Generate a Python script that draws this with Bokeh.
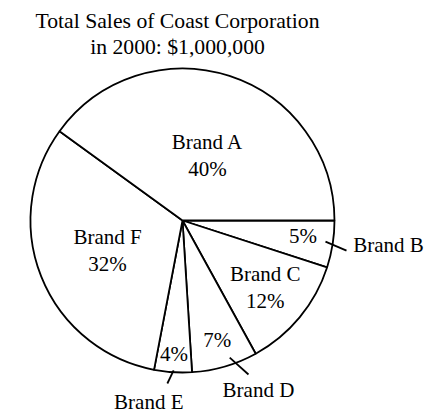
import math
from bokeh.plotting import figure
from bokeh.models import Range1d, ColumnDataSource
from bokeh.core.properties import value
from bokeh.embed import file_html
from bokeh.resources import INLINE

# ---- data ----
brands = ["Brand A", "Brand B", "Brand C", "Brand D", "Brand E", "Brand F"]
shares = [40, 5, 12, 7, 4, 32]
title_lines = ["Total Sales of Coast Corporation", "in 2000: $1,000,000"]

# ---- layout / style ----
W, H = 446, 413
FONT = value("Liberation Serif")
FSIZE = "21px"
TSIZE = "21.7px"
CX, CY, R = 182, 193, 152          # pie centre/radius in plot units (1 unit = 1 px)
LW = 1.8
# slice order drawn clockwise from 3 o'clock
clockwise_order = ["Brand B", "Brand C", "Brand D", "Brand E", "Brand F", "Brand A"]
# inside label placement: radius fraction, angle nudge (deg), show name?
inner = {
    "Brand A": (0.46, -3.0, True),
    "Brand B": (0.80, 1.5, False),
    "Brand C": (0.70, 0.7, True),
    "Brand D": (0.82, 0.0, False),
    "Brand E": (0.88, 0.0, False),
    "Brand F": (0.53, 0.0, True),
}
# outside call-outs: leader (r0, da0) -> (r1, da1), text (r, da)
callout = {
    "Brand B": ((0.951, 0.6), (1.097, -1.4), (1.365, 2.1)),
    "Brand D": ((0.954, 2.8), (1.102, 7.0), (1.224, 7.9)),
    "Brand E": ((0.987, 0.2), (1.077, -1.7), (1.217, -6.9)),
}
LINE_GAP = 13.5

p = figure(width=W, height=H, x_range=Range1d(0, W), y_range=Range1d(0, H),
           output_backend="svg", toolbar_location=None, min_border=0)
p.axis.visible = False
p.grid.visible = False
p.outline_line_color = None
p.background_fill_color = "white"
p.border_fill_color = "white"

total = float(sum(shares))
share_of = dict(zip(brands, shares))
cum = 0.0
starts, ends, mids = [], [], {}
for b in clockwise_order:
    a0 = -cum / total * 2 * math.pi
    cum += share_of[b]
    a1 = -cum / total * 2 * math.pi
    starts.append(a1)
    ends.append(a0)
    mids[b] = (a0 + a1) / 2

src = ColumnDataSource(dict(start=starts, end=ends, brand=clockwise_order))
p.wedge(x=CX, y=CY, radius=R, start_angle="start", end_angle="end", source=src,
        fill_color="white", line_color="black", line_width=LW)

def polar(r, ang):
    return CX + r * math.cos(ang), CY + r * math.sin(ang)

tx, ty, tt = [], [], []
for b, s in zip(brands, shares):
    rf, da, show = inner[b]
    x, y = polar(rf * R, mids[b] + math.radians(da))
    pct = f"{s}%"
    if show:
        tx += [x, x]
        ty += [y + LINE_GAP, y - LINE_GAP]
        tt += [b, pct]
    else:
        tx.append(x)
        ty.append(y)
        tt.append(pct)

sx0, sy0, sx1, sy1 = [], [], [], []
for b, ((r0, d0), (r1, d1), (rt, dt)) in callout.items():
    x0, y0 = polar(r0 * R, mids[b] + math.radians(d0))
    x1, y1 = polar(r1 * R, mids[b] + math.radians(d1))
    sx0.append(x0); sy0.append(y0); sx1.append(x1); sy1.append(y1)
    x, y = polar(rt * R, mids[b] + math.radians(dt))
    tx.append(x); ty.append(y); tt.append(b)

p.segment(x0=sx0, y0=sy0, x1=sx1, y1=sy1, line_color="black", line_width=LW)

p.text(x=tx, y=ty, text=tt, text_font=FONT, text_font_size=FSIZE,
       text_align="center", text_baseline="middle", text_color="black")

# title (visual centres of the two lines)
p.text(x=[177, 177], y=[393, 367], text=title_lines, text_font=FONT,
       text_font_size=TSIZE, text_align="center", text_baseline="middle",
       text_color="black")

open("out.html", "w").write(file_html(p, INLINE))
